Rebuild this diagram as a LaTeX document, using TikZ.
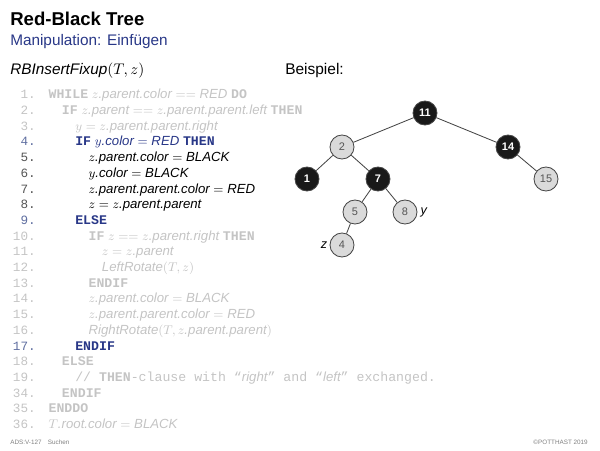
\documentclass[tikz,border=0pt]{standalone}
\usepackage{fontspec}
\setmainfont{Liberation Sans}
\setmonofont{Liberation Mono}
\usetikzlibrary{positioning}

\definecolor{fade}{RGB}{196,196,196}
\definecolor{navy}{RGB}{40,55,135}
\definecolor{numblue}{RGB}{95,110,160}
\definecolor{numgray}{RGB}{85,85,85}
\definecolor{redfill}{RGB}{218,218,218}
\definecolor{edgegray}{RGB}{70,70,70}

\newcommand{\kwd}[1]{{\upshape\ttfamily\bfseries #1}}

\begin{document}
\begin{tikzpicture}[x=0.025cm,y=-0.025cm,
    lnum/.style={anchor=base east,inner sep=0pt,font=\ttfamily\fontsize{9}{10}\selectfont},
    code/.style={anchor=base west,inner sep=0pt,font=\itshape\fontsize{9.4}{11}\selectfont},
    rbnode/.style={circle,draw=edgegray,line width=0.6pt,minimum size=0.6cm,inner sep=0pt,
      font=\fontsize{7.8}{9}\selectfont},
    rednode/.style={rbnode,fill=redfill,text=numgray},
    blacknode/.style={rbnode,fill=black!90,text=white,font=\bfseries\fontsize{7.8}{9}\selectfont},
    edge/.style={draw=edgegray,line width=0.6pt}]
  \useasboundingbox (0,0) rectangle (600,450);

  % heading
  \node[anchor=base west,inner sep=0pt,font=\bfseries\fontsize{13.2}{15}\selectfont] (title) at (10,25) {Red-Black Tree};
  \node[anchor=base west,inner sep=0pt,text=navy,font=\fontsize{10.9}{12}\selectfont] (subtitle) at (10,45) {Manipulation: Einfügen};
  \node[anchor=base west,inner sep=0pt,font=\fontsize{10.9}{12}\selectfont] (algo) at (10,74) {\textit{RBInsertFixup}$(T,z)$};
  \node[anchor=base west,inner sep=0pt,font=\fontsize{11}{12}\selectfont] (bsp) at (285,74) {Beispiel:};

  % line numbers
  \foreach \n in {1,2,3,10,11,12,13,14,15,16,18,19}
    \node[lnum,text=fade] (n\n) at (36,{83.1+15.7*\n}) {\n.};
  \foreach \n in {34,35,36}
    \node[lnum,text=fade] (n\n) at (36,{83.1+15.7*(\n-14)}) {\n.};
  \foreach \n in {4,9,17}
    \node[lnum,text=numblue] (n\n) at (36,{83.1+15.7*\n}) {\n.};
  \foreach \n in {5,...,8}
    \node[lnum,text=numgray] (n\n) at (36,{83.1+15.7*\n}) {\n.};

  % code
  \node[code,text=fade] (c1) at (48.3,98.8) {\kwd{WHILE} $z$.parent.color $==$ RED \kwd{DO}};
  \node[code,text=fade] (c2) at (61.7,114.5) {\kwd{IF} $z$.parent $==$ $z$.parent.parent.left \kwd{THEN}};
  \node[code,text=fade] (c3) at (75,130.2) {$y = z$.parent.parent.right};
  \node[code,text=navy] (c4) at (75,145.9) {\kwd{IF} $y$.color $=$ RED \kwd{THEN}};
  \node[code] (c5) at (88.3,161.6) {$z$.parent.color $=$ BLACK};
  \node[code] (c6) at (88.3,177.3) {$y$.color $=$ BLACK};
  \node[code] (c7) at (88.3,193) {$z$.parent.parent.color $=$ RED};
  \node[code] (c8) at (88.3,208.7) {$z = z$.parent.parent};
  \node[code,text=navy] (c9) at (75,224.4) {\kwd{ELSE}};
  \node[code,text=fade] (c10) at (88.3,240.1) {\kwd{IF} $z == z$.parent.right \kwd{THEN}};
  \node[code,text=fade] (c11) at (101.7,255.8) {$z = z$.parent};
  \node[code,text=fade] (c12) at (101.7,271.5) {LeftRotate$(T,z)$};
  \node[code,text=fade] (c13) at (88.3,287.2) {\kwd{ENDIF}};
  \node[code,text=fade] (c14) at (88.3,302.9) {$z$.parent.color $=$ BLACK};
  \node[code,text=fade] (c15) at (88.3,318.6) {$z$.parent.parent.color $=$ RED};
  \node[code,text=fade] (c16) at (88.3,334.3) {RightRotate$(T,z$.parent.parent$)$};
  \node[code,text=navy] (c17) at (75,350) {\kwd{ENDIF}};
  \node[code,text=fade] (c18) at (61.7,365.7) {\kwd{ELSE}};
  \node[code,text=fade] (c19) at (75,381.4) {{\upshape\ttfamily // \textbf{THEN}-clause with “}right{\upshape\ttfamily ” and “}left{\upshape\ttfamily ” exchanged.}};
  \node[code,text=fade] (c34) at (61.7,397.1) {\kwd{ENDIF}};
  \node[code,text=fade] (c35) at (48.3,412.8) {\kwd{ENDDO}};
  \node[code,text=fade] (c36) at (48.3,428.5) {$T$.root.color $=$ BLACK};

  % tree
  \node[blacknode] (t11) at (425,113) {11};
  \node[rednode]   (t2)  at (342,147) {2};
  \node[blacknode] (t14) at (508,147) {14};
  \node[blacknode] (t1)  at (307,179) {1};
  \node[blacknode] (t7)  at (378,179) {7};
  \node[rednode]   (t15) at (546,179) {15};
  \node[rednode]   (t5)  at (355,212) {5};
  \node[rednode]   (t8)  at (405,212) {8};
  \node[rednode]   (t4)  at (342,245) {4};
  \draw[edge] (t11) -- (t2);
  \draw[edge] (t11) -- (t14);
  \draw[edge] (t2) -- (t1);
  \draw[edge] (t2) -- (t7);
  \draw[edge] (t14) -- (t15);
  \draw[edge] (t7) -- (t5);
  \draw[edge] (t7) -- (t8);
  \draw[edge] (t5) -- (t4);
  \node[right=2pt of t8,inner sep=0pt,font=\itshape\fontsize{9}{10}\selectfont] (ylab) {y};
  \node[left=1.5pt of t4,inner sep=0pt,font=\itshape\fontsize{9}{10}\selectfont] (zlab) {z};

  % footer
  \node[anchor=base west,inner sep=0pt,text=gray,font=\fontsize{4.5}{5}\selectfont] (foot) at (10,444) {ADS:V-127\quad Suchen};
  \node[anchor=base east,inner sep=0pt,text=gray,font=\fontsize{4.5}{5}\selectfont] (copy) at (588,444) {©POTTHAST 2019};
\end{tikzpicture}
\end{document}
